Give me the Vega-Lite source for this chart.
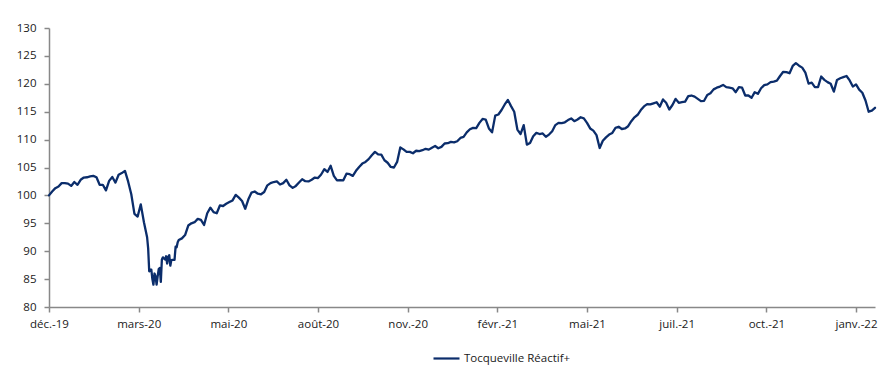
{
"$schema": "https://vega.github.io/schema/vega-lite/v6.json",
"autosize": {"type": "none"},
"width": 826,
"height": 279,
"padding": {"left": 49, "top": 28, "right": 21, "bottom": 58},
"background": "white",
"config": {"view": {"stroke": null}, "font": "Open Sans"},
"data": {"values": [
{"date":"2019-12-10","value":100.0},{"date":"2019-12-13","value":100.7},{"date":"2019-12-16","value":101.3},{"date":"2019-12-19","value":101.6},{"date":"2019-12-22","value":102.2},{"date":"2019-12-25","value":102.2},{"date":"2019-12-28","value":102.1},{"date":"2019-12-31","value":101.7},
{"date":"2020-01-03","value":102.4},{"date":"2020-01-06","value":101.9},{"date":"2020-01-09","value":102.8},{"date":"2020-01-12","value":103.2},{"date":"2020-01-15","value":103.25},{"date":"2020-01-18","value":103.4},{"date":"2020-01-21","value":103.5},{"date":"2020-01-24","value":103.25},{"date":"2020-01-27","value":101.9},{"date":"2020-01-30","value":101.9},
{"date":"2020-02-02","value":100.9},{"date":"2020-02-05","value":102.6},{"date":"2020-02-08","value":103.3},{"date":"2020-02-11","value":102.3},{"date":"2020-02-14","value":103.7},{"date":"2020-02-17","value":104.0},{"date":"2020-02-20","value":104.4},{"date":"2020-02-23","value":102.5},{"date":"2020-02-26","value":100.2},{"date":"2020-02-29","value":96.7},
{"date":"2020-03-03","value":96.2},{"date":"2020-03-06","value":98.4},{"date":"2020-03-09","value":95.2},
{"date":"2020-03-12","value":92.5},{"date":"2020-03-13","value":90.5},{"date":"2020-03-14","value":86.4},{"date":"2020-03-15","value":86.7},{"date":"2020-03-16","value":86.7},{"date":"2020-03-17","value":85.0},{"date":"2020-03-18","value":84.0},{"date":"2020-03-19","value":86.0},{"date":"2020-03-20","value":85.5},{"date":"2020-03-21","value":84.0},{"date":"2020-03-22","value":85.5},{"date":"2020-03-23","value":86.8},{"date":"2020-03-24","value":87.0},{"date":"2020-03-25","value":84.5},{"date":"2020-03-26","value":88.5},{"date":"2020-03-27","value":88.9},{"date":"2020-03-28","value":88.7},{"date":"2020-03-29","value":88.5},{"date":"2020-03-30","value":89.1},{"date":"2020-03-31","value":87.8},
{"date":"2020-04-01","value":89.0},{"date":"2020-04-02","value":89.3},{"date":"2020-04-03","value":87.4},{"date":"2020-04-04","value":88.4},{"date":"2020-04-05","value":88.45},{"date":"2020-04-06","value":88.45},{"date":"2020-04-07","value":88.45},{"date":"2020-04-08","value":90.8},{"date":"2020-04-09","value":90.7},{"date":"2020-04-10","value":91.6},
{"date":"2020-04-11","value":92.0},{"date":"2020-04-14","value":92.3},{"date":"2020-04-17","value":92.9},{"date":"2020-04-20","value":94.6},{"date":"2020-04-23","value":95.0},{"date":"2020-04-26","value":95.2},{"date":"2020-04-29","value":95.8},
{"date":"2020-05-02","value":95.6},{"date":"2020-05-05","value":94.7},{"date":"2020-05-08","value":96.8},{"date":"2020-05-11","value":97.8},{"date":"2020-05-14","value":97.0},{"date":"2020-05-17","value":96.8},{"date":"2020-05-20","value":98.2},{"date":"2020-05-23","value":98.1},{"date":"2020-05-26","value":98.5},{"date":"2020-05-29","value":98.8},
{"date":"2020-06-01","value":99.1},{"date":"2020-06-04","value":100.1},{"date":"2020-06-07","value":99.6},{"date":"2020-06-10","value":99.0},{"date":"2020-06-13","value":97.6},{"date":"2020-06-16","value":99.3},{"date":"2020-06-19","value":100.5},{"date":"2020-06-22","value":100.7},{"date":"2020-06-25","value":100.3},{"date":"2020-06-28","value":100.2},
{"date":"2020-07-01","value":100.6},{"date":"2020-07-04","value":101.8},{"date":"2020-07-07","value":102.2},{"date":"2020-07-10","value":102.4},{"date":"2020-07-13","value":102.5},{"date":"2020-07-16","value":101.95},{"date":"2020-07-19","value":102.2},{"date":"2020-07-22","value":102.8},{"date":"2020-07-25","value":101.8},{"date":"2020-07-28","value":101.35},{"date":"2020-07-31","value":101.7},
{"date":"2020-08-03","value":102.3},{"date":"2020-08-06","value":102.9},{"date":"2020-08-09","value":102.55},{"date":"2020-08-12","value":102.5},{"date":"2020-08-15","value":102.8},{"date":"2020-08-18","value":103.2},{"date":"2020-08-21","value":103.1},{"date":"2020-08-24","value":103.75},{"date":"2020-08-27","value":104.7},{"date":"2020-08-30","value":104.2},
{"date":"2020-09-02","value":105.3},{"date":"2020-09-05","value":103.5},{"date":"2020-09-08","value":102.7},{"date":"2020-09-11","value":102.75},{"date":"2020-09-14","value":102.7},{"date":"2020-09-17","value":103.9},{"date":"2020-09-20","value":103.8},{"date":"2020-09-23","value":103.5},{"date":"2020-09-26","value":104.4},{"date":"2020-09-29","value":105.1},
{"date":"2020-10-02","value":105.7},{"date":"2020-10-05","value":106.0},{"date":"2020-10-08","value":106.5},{"date":"2020-10-11","value":107.2},{"date":"2020-10-14","value":107.8},{"date":"2020-10-17","value":107.35},{"date":"2020-10-20","value":107.3},{"date":"2020-10-23","value":106.3},{"date":"2020-10-26","value":105.85},{"date":"2020-10-29","value":105.1},
{"date":"2020-11-01","value":105.0},{"date":"2020-11-04","value":106.0},{"date":"2020-11-07","value":108.6},{"date":"2020-11-10","value":108.25},{"date":"2020-11-13","value":107.8},{"date":"2020-11-16","value":107.8},{"date":"2020-11-19","value":107.55},{"date":"2020-11-22","value":108.0},{"date":"2020-11-25","value":107.95},{"date":"2020-11-28","value":108.1},
{"date":"2020-12-01","value":108.35},{"date":"2020-12-04","value":108.2},{"date":"2020-12-07","value":108.55},{"date":"2020-12-10","value":108.85},{"date":"2020-12-13","value":108.45},{"date":"2020-12-16","value":108.7},{"date":"2020-12-19","value":109.3},{"date":"2020-12-22","value":109.35},{"date":"2020-12-25","value":109.6},{"date":"2020-12-28","value":109.5},{"date":"2020-12-31","value":109.7},
{"date":"2021-01-03","value":110.3},{"date":"2021-01-06","value":110.5},{"date":"2021-01-09","value":111.3},{"date":"2021-01-12","value":111.85},{"date":"2021-01-15","value":112.1},{"date":"2021-01-18","value":112.05},{"date":"2021-01-21","value":113.0},{"date":"2021-01-24","value":113.7},{"date":"2021-01-27","value":113.6},{"date":"2021-01-30","value":112.0},
{"date":"2021-02-02","value":111.3},{"date":"2021-02-05","value":114.3},{"date":"2021-02-08","value":114.5},{"date":"2021-02-11","value":115.3},{"date":"2021-02-14","value":116.3},{"date":"2021-02-17","value":117.1},{"date":"2021-02-20","value":116.0},{"date":"2021-02-23","value":115.0},{"date":"2021-02-26","value":111.8},
{"date":"2021-03-01","value":111.0},{"date":"2021-03-04","value":112.6},{"date":"2021-03-07","value":109.1},{"date":"2021-03-10","value":109.4},{"date":"2021-03-13","value":110.6},{"date":"2021-03-16","value":111.2},{"date":"2021-03-19","value":111.0},{"date":"2021-03-22","value":111.1},{"date":"2021-03-25","value":110.5},{"date":"2021-03-28","value":110.9},{"date":"2021-03-31","value":111.5},
{"date":"2021-04-03","value":112.6},{"date":"2021-04-06","value":113.0},{"date":"2021-04-09","value":112.95},{"date":"2021-04-12","value":113.1},{"date":"2021-04-15","value":113.5},{"date":"2021-04-18","value":113.8},{"date":"2021-04-21","value":113.3},{"date":"2021-04-24","value":113.6},{"date":"2021-04-27","value":114.0},{"date":"2021-04-30","value":113.8},
{"date":"2021-05-03","value":113.0},{"date":"2021-05-06","value":112.0},{"date":"2021-05-09","value":111.6},{"date":"2021-05-12","value":110.8},{"date":"2021-05-15","value":108.5},{"date":"2021-05-18","value":109.8},{"date":"2021-05-21","value":110.4},{"date":"2021-05-24","value":110.9},{"date":"2021-05-27","value":111.2},{"date":"2021-05-30","value":112.1},
{"date":"2021-06-02","value":112.3},{"date":"2021-06-05","value":111.9},{"date":"2021-06-08","value":112.0},{"date":"2021-06-11","value":112.4},{"date":"2021-06-14","value":113.3},{"date":"2021-06-17","value":114.0},{"date":"2021-06-20","value":114.45},{"date":"2021-06-23","value":115.3},{"date":"2021-06-26","value":115.95},{"date":"2021-06-29","value":116.35},
{"date":"2021-07-02","value":116.3},{"date":"2021-07-05","value":116.5},{"date":"2021-07-08","value":116.7},{"date":"2021-07-11","value":115.9},{"date":"2021-07-14","value":117.2},{"date":"2021-07-17","value":116.6},{"date":"2021-07-20","value":115.4},{"date":"2021-07-23","value":116.2},{"date":"2021-07-26","value":117.3},{"date":"2021-07-29","value":116.6},
{"date":"2021-08-01","value":116.7},{"date":"2021-08-04","value":116.8},{"date":"2021-08-07","value":117.8},{"date":"2021-08-10","value":117.9},{"date":"2021-08-13","value":117.7},{"date":"2021-08-16","value":117.3},{"date":"2021-08-19","value":116.9},{"date":"2021-08-22","value":116.95},{"date":"2021-08-25","value":118.0},{"date":"2021-08-28","value":118.3},{"date":"2021-08-31","value":119.0},
{"date":"2021-09-03","value":119.3},{"date":"2021-09-06","value":119.5},{"date":"2021-09-09","value":119.8},{"date":"2021-09-12","value":119.4},{"date":"2021-09-15","value":119.3},{"date":"2021-09-18","value":119.2},{"date":"2021-09-21","value":118.5},{"date":"2021-09-24","value":119.4},{"date":"2021-09-27","value":119.3},{"date":"2021-09-30","value":117.9},
{"date":"2021-10-03","value":117.9},{"date":"2021-10-06","value":117.5},{"date":"2021-10-09","value":118.5},{"date":"2021-10-12","value":118.2},{"date":"2021-10-15","value":119.2},{"date":"2021-10-18","value":119.75},{"date":"2021-10-21","value":119.9},{"date":"2021-10-24","value":120.3},{"date":"2021-10-27","value":120.4},{"date":"2021-10-30","value":120.55},
{"date":"2021-11-02","value":121.4},{"date":"2021-11-05","value":122.15},{"date":"2021-11-08","value":122.1},{"date":"2021-11-11","value":121.9},{"date":"2021-11-14","value":123.2},{"date":"2021-11-17","value":123.7},{"date":"2021-11-20","value":123.25},{"date":"2021-11-23","value":122.9},{"date":"2021-11-26","value":122.0},{"date":"2021-11-29","value":120.05},
{"date":"2021-12-02","value":120.2},{"date":"2021-12-05","value":119.4},{"date":"2021-12-08","value":119.4},{"date":"2021-12-11","value":121.3},{"date":"2021-12-14","value":120.7},{"date":"2021-12-17","value":120.3},{"date":"2021-12-20","value":120.0},{"date":"2021-12-23","value":118.6},{"date":"2021-12-26","value":120.7},{"date":"2021-12-29","value":121.0},
{"date":"2022-01-01","value":121.2},{"date":"2022-01-04","value":121.4},{"date":"2022-01-07","value":120.6},{"date":"2022-01-10","value":119.5},{"date":"2022-01-13","value":119.9},{"date":"2022-01-16","value":118.95},{"date":"2022-01-19","value":118.4},{"date":"2022-01-22","value":117.0},{"date":"2022-01-25","value":115.0},{"date":"2022-01-28","value":115.2},{"date":"2022-01-31","value":115.7}
]},
"mark": {"type": "line", "strokeWidth": 2.3, "strokeJoin": "round", "strokeCap": "round"},
"encoding": {
  "x": {
    "field": "date", "type": "temporal",
    "scale": {"type": "utc", "domain": [{"year": 2019, "month": 12, "date": 10, "utc": true}, {"year": 2022, "month": 1, "date": 31, "utc": true}]},
    "axis": {
      "title": null, "grid": false,
      "values": [
        {"year": 2019, "month": 12, "date": 10, "utc": true},
        {"year": 2020, "month": 3, "date": 4, "utc": true},
        {"year": 2020, "month": 5, "date": 28, "utc": true},
        {"year": 2020, "month": 8, "date": 21, "utc": true},
        {"year": 2020, "month": 11, "date": 14, "utc": true},
        {"year": 2021, "month": 2, "date": 7, "utc": true},
        {"year": 2021, "month": 5, "date": 3, "utc": true},
        {"year": 2021, "month": 7, "date": 27, "utc": true},
        {"year": 2021, "month": 10, "date": 20, "utc": true},
        {"year": 2022, "month": 1, "date": 13, "utc": true}
      ],
      "labelExpr": "['janv.','févr.','mars','avr.','mai','juin','juil.','août','sept.','oct.','nov.','déc.'][utcmonth(datum.value)] + '-' + utcFormat(datum.value, '%y')",
      "domainColor": "#888888", "domainWidth": 1.5,
      "tickColor": "#888888", "tickWidth": 1.5, "tickSize": 5,
      "labelColor": "#1a1a1a", "labelFontSize": 11.5, "labelPadding": 6,
      "labelFlush": false, "labelOverlap": false
    }
  },
  "y": {
    "field": "value", "type": "quantitative",
    "scale": {"domain": [80, 130], "nice": false, "zero": false},
    "axis": {
      "title": null, "grid": false,
      "values": [80, 85, 90, 95, 100, 105, 110, 115, 120, 125, 130],
      "domainColor": "#888888", "domainWidth": 1.5,
      "tickColor": "#888888", "tickWidth": 1.5, "tickSize": 5,
      "labelColor": "#1a1a1a", "labelFontSize": 11.5, "labelPadding": 8
    }
  },
  "color": {
    "datum": "Tocqueville Réactif+", "type": "nominal",
    "scale": {"range": ["#0b2d6b"]},
    "legend": {
      "title": null, "orient": "none", "legendX": 383, "legendY": 316,
      "symbolType": "stroke", "symbolSize": 676, "symbolStrokeWidth": 2.2,
      "labelFontSize": 11.5, "labelColor": "#1a1a1a", "labelOffset": 3
    }
  }
}
}
